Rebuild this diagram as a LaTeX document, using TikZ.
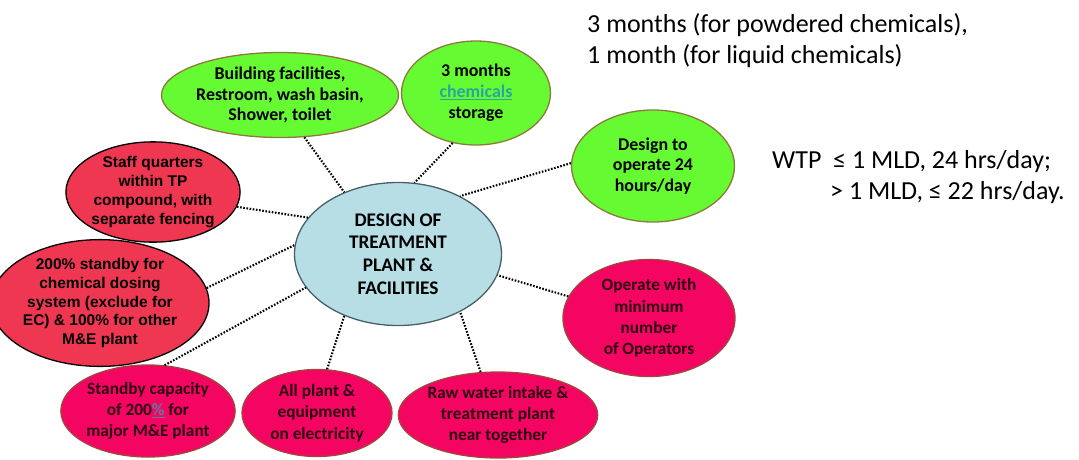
\documentclass[tikz,border=0pt]{standalone}
\usepackage{fontspec}
\setmainfont{Carlito}
\newfontfamily\arialfont{Liberation Sans}
\usetikzlibrary{shapes.geometric}

\definecolor{limegreen}{RGB}{102,250,51}
\definecolor{olivebrown}{RGB}{140,122,60}
\definecolor{crimsonred}{RGB}{240,55,82}
\definecolor{hotpink}{RGB}{245,5,98}
\definecolor{pinkborder}{RGB}{160,70,60}
\definecolor{darkwine}{RGB}{45,0,20}
\definecolor{paleblue}{RGB}{183,222,228}
\definecolor{slateborder}{RGB}{70,95,105}
\definecolor{tealtext}{RGB}{40,165,160}
\definecolor{steeltext}{RGB}{90,125,160}

\tikzset{
  bubble/.style={ellipse, line width=1.3pt, align=center, inner sep=0pt},
  greenbubble/.style={bubble, fill=limegreen, draw=olivebrown,
    font=\bfseries\fontsize{17.9}{20.8}\selectfont},
  redbubble/.style={bubble, fill=crimsonred, draw=black,
    font=\arialfont\bfseries\fontsize{15.5}{18.8}\selectfont},
  pinkbubble/.style={bubble, fill=hotpink, draw=pinkborder, text=darkwine,
    font=\bfseries\fontsize{17.3}{21.3}\selectfont},
  link/.style={line width=2.1pt, dash pattern=on 1.6pt off 1.6pt},
  note/.style={anchor=base west, align=left, inner sep=0pt,
    font=\fontsize{26}{31}\selectfont}
}

\begin{document}
\begin{tikzpicture}[x=1pt,y=-1pt]
    \useasboundingbox (0,0) rectangle (1079,459);

    % Centre
    \node[bubble, fill=paleblue, draw=slateborder, minimum width=207pt, minimum height=143pt,
          font=\bfseries\fontsize{19.3}{22.8}\selectfont] (design) at (398,254)
        {DESIGN OF\\TREATMENT\\PLANT \&\\FACILITIES};

    % Green ones
    \node[greenbubble, minimum width=207pt, minimum height=85pt] (building) at (280,95)
        {Building facilities,\\Restroom, wash basin,\\Shower, toilet};
    \node[greenbubble, minimum width=149pt, minimum height=104pt] (storage) at (476,93)
        {3 months\\\textcolor{tealtext}{\underline{chemicals}}\\storage};
    \node[greenbubble, minimum width=163pt, minimum height=112pt] (hours) at (653,166)
        {Design to\\operate 24\\hours/day};

    % Red ones
    \node[redbubble, minimum width=173pt, minimum height=100pt] (quarters) at (153,192)
        {Staff quarters\\within TP\\compound, with\\separate fencing};
    \node[redbubble, minimum width=184pt, minimum height=122pt] (dosing) at (100,303)
        {200\% standby for\\chemical dosing\\system (exclude for\\EC) \& 100\% for other\\M\&E plant};

    % Pink ones
    \node[pinkbubble, minimum width=168pt, minimum height=92pt] (standby) at (148,411)
        {Standby capacity\\of 200\textcolor{steeltext}{\underline{\%}} for\\major M\&E plant};
    \node[pinkbubble, minimum width=150pt, minimum height=87pt] (power) at (317,413)
        {All plant \&\\equipment\\on electricity};
    \node[pinkbubble, minimum width=193pt, minimum height=86pt] (intake) at (498,415)
        {Raw water intake \&\\treatment plant\\near together};
    \node[pinkbubble, minimum width=172pt, minimum height=117pt] (operators) at (649,318)
        {Operate with\\minimum\\number\\of Operators};

    % Links
    \draw[link] (building.-60) -- (design.131);
    \draw[link] (storage.-115) -- (design.77);
    \draw[link] (hours.178) -- (design.43);
    \draw[link] (quarters.-10) -- (design.158);
    \draw[link] (dosing.8) -- (design.175);
    \draw[link] (standby.70) -- (design.200);
    \draw[link] (power.77) -- (design.229);
    \draw[link] (intake.112) -- (design.-43);
    \draw[link] (operators.165) -- (design.-12);

    % Notes (base = last line)
    \node[note] (storagenote) at (587,63)
        {3 months (for powdered chemicals),\\1 month (for liquid chemicals)};
    \node[note] (hoursnote) at (772,199)
        {WTP\ \ ≤ 1 MLD, 24 hrs/day;\\\hspace*{58pt}> 1 MLD, ≤ 22 hrs/day.};
\end{tikzpicture}
\end{document}
